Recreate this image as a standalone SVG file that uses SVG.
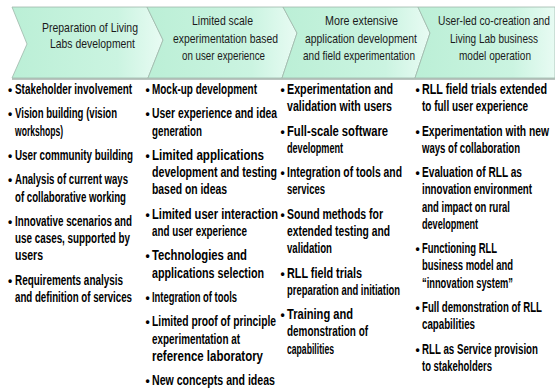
<svg xmlns="http://www.w3.org/2000/svg" width="555" height="390" viewBox="0 0 555 390">
<style>
.ch{stroke:#9fb7ab;stroke-width:0.8;}
.h{font-family:"Liberation Sans",Arial,sans-serif;font-size:13.5px;fill:#1a1a1a;text-anchor:middle;}
.t{font-family:"Liberation Sans",Arial,sans-serif;font-size:14px;font-weight:bold;fill:#000;}
.bl{font-size:12px;}
</style>
<defs>
<linearGradient id="g" x1="0" y1="0" x2="1" y2="0">
<stop offset="0" stop-color="#bbefd6"/>
<stop offset="0.7" stop-color="#cbf4e1"/>
<stop offset="1" stop-color="#e8fbf3"/>
</linearGradient>
</defs>
<rect width="555" height="390" fill="#fff"/>
<rect x="12" y="78" width="543" height="2" fill="#8c9c94" opacity="0.6"/>
<g id="phase1">
<polygon class="ch" fill="url(#g)" points="12,7 147,7 163,40 148,78 12,78 27,44"/>
<text class="h" x="90" y="32" textLength="96" lengthAdjust="spacingAndGlyphs">Preparation of Living</text>
<text class="h" x="92.5" y="48" textLength="85" lengthAdjust="spacingAndGlyphs">Labs development</text>
</g>
<g id="phase2">
<polygon class="ch" fill="url(#g)" points="147,7 283,7 297,33 282,78 148,78 163,40"/>
<text class="h" x="222.5" y="25" textLength="61" lengthAdjust="spacingAndGlyphs">Limited scale</text>
<text class="h" x="225.5" y="43" textLength="105" lengthAdjust="spacingAndGlyphs">experimentation based</text>
<text class="h" x="223.5" y="60" textLength="83" lengthAdjust="spacingAndGlyphs">on user experience</text>
</g>
<g id="phase3">
<polygon class="ch" fill="url(#g)" points="283,7 418,7 430,33 415,78 282,78 297,33"/>
<text class="h" x="361.5" y="25" textLength="73" lengthAdjust="spacingAndGlyphs">More extensive</text>
<text class="h" x="361" y="43" textLength="112" lengthAdjust="spacingAndGlyphs">application development</text>
<text class="h" x="359" y="60" textLength="112" lengthAdjust="spacingAndGlyphs">and field experimentation</text>
</g>
<g id="phase4">
<polygon class="ch" fill="url(#g)" points="418,7 555,7 555,78 415,78 430,33"/>
<text class="h" x="494" y="25" textLength="112" lengthAdjust="spacingAndGlyphs">User-led co-creation and</text>
<text class="h" x="494" y="43" textLength="88" lengthAdjust="spacingAndGlyphs">Living Lab business</text>
<text class="h" x="495" y="60" textLength="72" lengthAdjust="spacingAndGlyphs">model operation</text>
</g>
<g id="connectors"/>
<g id="col1">
<text class="t" y="94"><tspan class="bl" x="8">•</tspan><tspan x="15" textLength="117" lengthAdjust="spacingAndGlyphs">Stakeholder involvement</tspan></text>
<text class="t" y="118.4"><tspan class="bl" x="8">•</tspan><tspan x="15" textLength="102" lengthAdjust="spacingAndGlyphs">Vision building (vision</tspan></text>
<text class="t" x="15" y="135.6" textLength="48" lengthAdjust="spacingAndGlyphs">workshops)</text>
<text class="t" y="160"><tspan class="bl" x="8">•</tspan><tspan x="15" textLength="118" lengthAdjust="spacingAndGlyphs">User community building</tspan></text>
<text class="t" y="184.4"><tspan class="bl" x="8">•</tspan><tspan x="15" textLength="113" lengthAdjust="spacingAndGlyphs">Analysis of current ways</tspan></text>
<text class="t" x="15" y="201.6" textLength="111" lengthAdjust="spacingAndGlyphs">of collaborative working</text>
<text class="t" y="226"><tspan class="bl" x="8">•</tspan><tspan x="15" textLength="117" lengthAdjust="spacingAndGlyphs">Innovative scenarios and</tspan></text>
<text class="t" x="15" y="243.2" textLength="115" lengthAdjust="spacingAndGlyphs">use cases, supported by</text>
<text class="t" x="15" y="260.4" textLength="28" lengthAdjust="spacingAndGlyphs">users</text>
<text class="t" y="284.8"><tspan class="bl" x="8">•</tspan><tspan x="15" textLength="108" lengthAdjust="spacingAndGlyphs">Requirements analysis</tspan></text>
<text class="t" x="15" y="302" textLength="117" lengthAdjust="spacingAndGlyphs">and definition of services</text>
</g>
<g id="col2">
<text class="t" y="94"><tspan class="bl" x="145.5">•</tspan><tspan x="152" textLength="105" lengthAdjust="spacingAndGlyphs">Mock-up development</tspan></text>
<text class="t" y="118.4"><tspan class="bl" x="145.5">•</tspan><tspan x="152" textLength="125" lengthAdjust="spacingAndGlyphs">User experience and idea</tspan></text>
<text class="t" x="152" y="135.6" textLength="50" lengthAdjust="spacingAndGlyphs">generation</text>
<text class="t" y="160"><tspan class="bl" x="145.5">•</tspan><tspan x="152" textLength="112" lengthAdjust="spacingAndGlyphs">Limited applications</tspan></text>
<text class="t" x="152" y="177.2" textLength="125" lengthAdjust="spacingAndGlyphs">development and testing</text>
<text class="t" x="152" y="194.4" textLength="75" lengthAdjust="spacingAndGlyphs">based on ideas</text>
<text class="t" y="218.8"><tspan class="bl" x="145.5">•</tspan><tspan x="152" textLength="126" lengthAdjust="spacingAndGlyphs">Limited user interaction</tspan></text>
<text class="t" x="152" y="236" textLength="95" lengthAdjust="spacingAndGlyphs">and user experience</text>
<text class="t" y="260.4"><tspan class="bl" x="145.5">•</tspan><tspan x="152" textLength="95" lengthAdjust="spacingAndGlyphs">Technologies and</tspan></text>
<text class="t" x="152" y="277.6" textLength="112" lengthAdjust="spacingAndGlyphs">applications selection</text>
<text class="t" y="302"><tspan class="bl" x="145.5">•</tspan><tspan x="152" textLength="85" lengthAdjust="spacingAndGlyphs">Integration of tools</tspan></text>
<text class="t" y="326.4"><tspan class="bl" x="145.5">•</tspan><tspan x="152" textLength="124" lengthAdjust="spacingAndGlyphs">Limited proof of principle</tspan></text>
<text class="t" x="152" y="343.6" textLength="88" lengthAdjust="spacingAndGlyphs">experimentation at</text>
<text class="t" x="152" y="360.8" textLength="111" lengthAdjust="spacingAndGlyphs">reference laboratory</text>
<text class="t" y="385.2"><tspan class="bl" x="145.5">•</tspan><tspan x="152" textLength="123" lengthAdjust="spacingAndGlyphs">New concepts and ideas</tspan></text>
</g>
<g id="col3">
<text class="t" y="94"><tspan class="bl" x="280.5">•</tspan><tspan x="287" textLength="106" lengthAdjust="spacingAndGlyphs">Experimentation and</tspan></text>
<text class="t" x="287" y="111.2" textLength="105" lengthAdjust="spacingAndGlyphs">validation with users</text>
<text class="t" y="135.6"><tspan class="bl" x="280.5">•</tspan><tspan x="287" textLength="101" lengthAdjust="spacingAndGlyphs">Full-scale software</tspan></text>
<text class="t" x="287" y="152.8" textLength="56" lengthAdjust="spacingAndGlyphs">development</text>
<text class="t" y="177.2"><tspan class="bl" x="280.5">•</tspan><tspan x="287" textLength="115" lengthAdjust="spacingAndGlyphs">Integration of tools and</tspan></text>
<text class="t" x="287" y="194.4" textLength="38" lengthAdjust="spacingAndGlyphs">services</text>
<text class="t" y="218.8"><tspan class="bl" x="280.5">•</tspan><tspan x="287" textLength="96" lengthAdjust="spacingAndGlyphs">Sound methods for</tspan></text>
<text class="t" x="287" y="236" textLength="103" lengthAdjust="spacingAndGlyphs">extended testing and</text>
<text class="t" x="287" y="253.2" textLength="45" lengthAdjust="spacingAndGlyphs">validation</text>
<text class="t" y="277.6"><tspan class="bl" x="280.5">•</tspan><tspan x="287" textLength="75" lengthAdjust="spacingAndGlyphs">RLL field trials</tspan></text>
<text class="t" x="287" y="294.8" textLength="113" lengthAdjust="spacingAndGlyphs">preparation and initiation</text>
<text class="t" y="319.2"><tspan class="bl" x="280.5">•</tspan><tspan x="287" textLength="66" lengthAdjust="spacingAndGlyphs">Training and</tspan></text>
<text class="t" x="287" y="336.4" textLength="81" lengthAdjust="spacingAndGlyphs">demonstration of</text>
<text class="t" x="287" y="353.6" textLength="47" lengthAdjust="spacingAndGlyphs">capabilities</text>
</g>
<g id="col4">
<text class="t" y="94"><tspan class="bl" x="415.5">•</tspan><tspan x="422" textLength="125" lengthAdjust="spacingAndGlyphs">RLL field trials extended</tspan></text>
<text class="t" x="422" y="111.2" textLength="106" lengthAdjust="spacingAndGlyphs">to full user experience</text>
<text class="t" y="135.6"><tspan class="bl" x="415.5">•</tspan><tspan x="422" textLength="127" lengthAdjust="spacingAndGlyphs">Experimentation with new</tspan></text>
<text class="t" x="422" y="152.8" textLength="98" lengthAdjust="spacingAndGlyphs">ways of collaboration</text>
<text class="t" y="177.2"><tspan class="bl" x="415.5">•</tspan><tspan x="422" textLength="100" lengthAdjust="spacingAndGlyphs">Evaluation of RLL as</tspan></text>
<text class="t" x="422" y="194.4" textLength="110" lengthAdjust="spacingAndGlyphs">innovation environment</text>
<text class="t" x="422" y="211.6" textLength="88" lengthAdjust="spacingAndGlyphs">and impact on rural</text>
<text class="t" x="422" y="228.8" textLength="56" lengthAdjust="spacingAndGlyphs">development</text>
<text class="t" y="253.2"><tspan class="bl" x="415.5">•</tspan><tspan x="422" textLength="75" lengthAdjust="spacingAndGlyphs">Functioning RLL</tspan></text>
<text class="t" x="422" y="270.4" textLength="91" lengthAdjust="spacingAndGlyphs">business model and</text>
<text class="t" x="422" y="287.6" textLength="91" lengthAdjust="spacingAndGlyphs">“innovation system”</text>
<text class="t" y="312"><tspan class="bl" x="415.5">•</tspan><tspan x="422" textLength="120" lengthAdjust="spacingAndGlyphs">Full demonstration of RLL</tspan></text>
<text class="t" x="422" y="329.2" textLength="53" lengthAdjust="spacingAndGlyphs">capabilities</text>
<text class="t" y="353.6"><tspan class="bl" x="415.5">•</tspan><tspan x="422" textLength="116" lengthAdjust="spacingAndGlyphs">RLL as Service provision</tspan></text>
<text class="t" x="422" y="370.8" textLength="70" lengthAdjust="spacingAndGlyphs">to stakeholders</text>
</g>
</svg>
